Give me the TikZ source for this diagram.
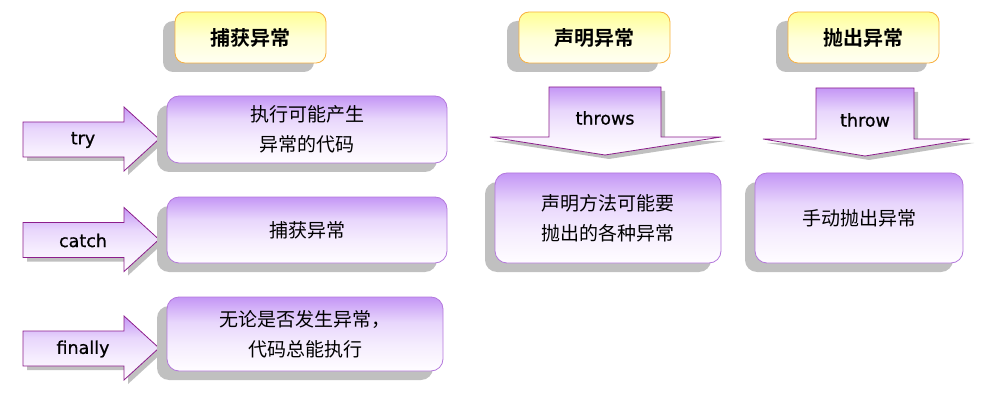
\documentclass[tikz,border=0pt]{standalone}
\usepackage{fontspec}
\setmainfont{DejaVu Sans}
\newfontfamily\lblfont[FakeBold=0.8]{DejaVu Sans}
\newfontfamily\cjk{Noto Sans CJK SC}
\newfontfamily\cjkb{Noto Sans CJK SC Bold}
\usetikzlibrary{shadows}
\definecolor{hdrtop}{RGB}{255,255,150}
\definecolor{hdrmid}{RGB}{255,255,215}
\definecolor{hdrbot}{RGB}{255,255,242}
\definecolor{hdrline}{RGB}{248,176,64}
\definecolor{boxtop}{RGB}{196,150,245}
\definecolor{boxmid}{RGB}{232,214,252}
\definecolor{boxbot}{RGB}{255,253,255}
\definecolor{boxline}{RGB}{180,120,220}
\definecolor{arrline}{RGB}{140,30,140}
\definecolor{shadowgray}{RGB}{192,192,192}
\pgfdeclareverticalshading{purplefade}{100bp}{color(0bp)=(boxbot); color(25bp)=(boxbot); color(42bp)=(boxbot!60!boxmid); color(58bp)=(boxmid); color(75bp)=(boxtop); color(100bp)=(boxtop)}
\pgfdeclareverticalshading{yellowfade}{100bp}{color(0bp)=(hdrbot); color(25bp)=(hdrbot); color(50bp)=(hdrmid); color(75bp)=(hdrtop); color(100bp)=(hdrtop)}
\tikzset{
  hdrbox/.style={draw=hdrline, line width=0.8pt, rounded corners=10pt,
    shading=yellowfade, minimum width=151pt, minimum height=51pt,
    font=\cjkb\fontsize{20}{24}\selectfont,
    drop shadow={shadow xshift=-12pt, shadow yshift=-9pt, fill=shadowgray, opacity=1}},
  purplebox/.style={draw=boxline, line width=0.8pt, rounded corners=12pt,
    shading=purplefade, align=center,
    font=\cjk\fontsize{19}{30}\selectfont,
    drop shadow={shadow xshift=-10pt, shadow yshift=-9pt, fill=shadowgray, opacity=1}},
  arrbody/.style={draw=arrline, line width=0.8pt, shading=purplefade},
  arrshadow/.style={fill=shadowgray},
  lbl/.style={font=\lblfont\fontsize{17.5}{20}\selectfont}
}
\begin{document}
\begin{tikzpicture}[x=1pt,y=-1pt]
\useasboundingbox (0,0) rectangle (991,409);
% headers
\node[hdrbox] (hdrA) at (250.5,37.5) {捕获异常};
\node[hdrbox] (hdrB) at (594.5,37.5) {声明异常};
\node[hdrbox] (hdrC) at (863.5,37.5) {抛出异常};
% right arrows
\foreach \cy/\nm/\txt in {139/try/try, 239.5/catch/catch, 348/finally/finally}{
  \fill[arrshadow] (27,\cy-13) -- (128,\cy-13) -- (128,\cy-28) -- (163,\cy+4) -- (128,\cy+36) -- (128,\cy+22) -- (27,\cy+22) -- cycle;
  \path[arrbody] (23,\cy-17) -- (124,\cy-17) -- (124,\cy-32) -- (159,\cy) -- (124,\cy+32) -- (124,\cy+18) -- (23,\cy+18) -- cycle;
  \node[lbl] (lbl\nm) at (83,\cy+1) {\txt};
}
% boxes
\node[purplebox, minimum width=280pt, minimum height=67pt] (tryBox) at (307,129.5) {执行可能产生\\异常的代码};
\node[purplebox, minimum width=280pt, minimum height=66pt] (catchBox) at (307,230) {捕获异常};
\node[purplebox, minimum width=276pt, minimum height=74pt] (finallyBox) at (305,334) {无论是否发生异常，\\代码总能执行};
\node[purplebox, minimum width=226pt, minimum height=90pt] (throwsBox) at (608,218) {声明方法可能要\\抛出的各种异常};
\node[purplebox, minimum width=208pt, minimum height=90pt] (throwBox) at (859,218) {手动抛出异常};
% down arrows
\fill[arrshadow] (553,91) -- (665,91) -- (665,141) -- (725,141) -- (609,159) -- (494,141) -- (553,141) -- cycle;
\path[arrbody] (549,87) -- (661,87) -- (661,137) -- (721,137) -- (605,155) -- (490,137) -- (549,137) -- cycle;
\node[lbl] (lblthrows) at (605,118) {throws};
\fill[arrshadow] (820,92) -- (918,92) -- (918,143) -- (974,143) -- (869,160) -- (767,143) -- (820,143) -- cycle;
\path[arrbody] (816,88) -- (914,88) -- (914,139) -- (970,139) -- (865,156) -- (763,139) -- (816,139) -- cycle;
\node[lbl] (lblthrow) at (865,120) {throw};
\end{tikzpicture}
\end{document}
